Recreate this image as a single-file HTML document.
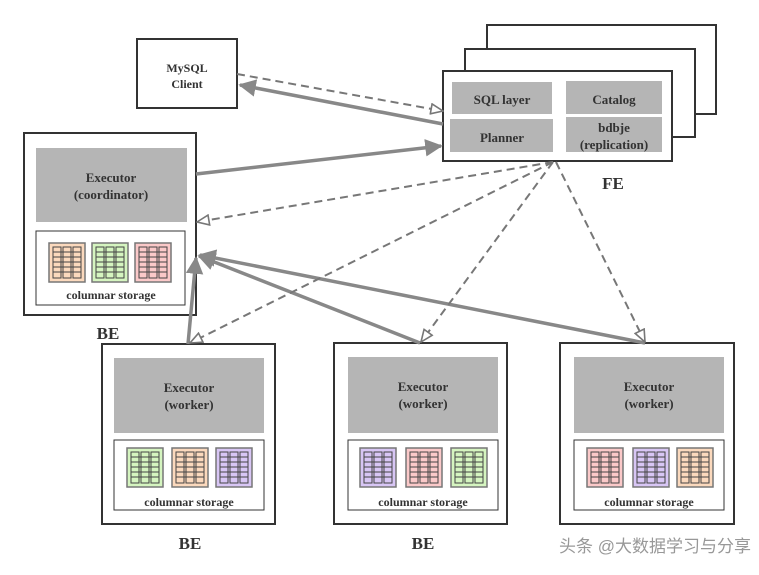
<!DOCTYPE html>
<html><head><meta charset="utf-8"><style>
html,body{margin:0;padding:0;background:#fff;width:759px;height:575px;overflow:hidden}
svg text{font-family:"Liberation Serif",serif;font-weight:bold;fill:#333}
</style></head><body>
<svg width="759" height="575" viewBox="0 0 759 575" xmlns="http://www.w3.org/2000/svg">
<defs>
<marker id="sa" viewBox="0 0 10 10" refX="9" refY="5" markerWidth="5" markerHeight="5" orient="auto" markerUnits="strokeWidth"><path d="M0,0 L10,5 L0,10 z" fill="#888"/></marker>
<marker id="oa" viewBox="0 0 14 12" refX="13" refY="6" markerWidth="14" markerHeight="12" orient="auto" markerUnits="userSpaceOnUse"><path d="M1,1 L13,6 L1,11 z" fill="#fff" stroke="#777" stroke-width="1.6"/></marker>
<g id="tbl">
<rect x="0" y="0" width="36" height="39" stroke="#777" stroke-width="1.5"/>
<g fill="none" stroke="#444" stroke-width="1">
<rect x="4" y="4" width="8" height="31"/><rect x="14" y="4" width="8" height="31"/><rect x="24" y="4" width="8" height="31"/>
<path d="M4,9h28M4,14h28M4,19h28M4,24h28M4,29h28"/>
</g>
</g>
</defs>

<rect x="137" y="39" width="100" height="69" fill="#fff" stroke="#333" stroke-width="2"/>
<text x="187" y="72" font-size="12" text-anchor="middle">MySQL</text>
<text x="187" y="88" font-size="12" text-anchor="middle">Client</text>

<rect x="487" y="25" width="229" height="89" fill="#fff" stroke="#333" stroke-width="2"/>
<rect x="465" y="49" width="230" height="88" fill="#fff" stroke="#333" stroke-width="2"/>
<rect x="443" y="71" width="229" height="90" fill="#fff" stroke="#333" stroke-width="2"/>
<rect x="452" y="82" width="100" height="32" fill="#b5b5b5"/>
<rect x="566" y="81" width="96" height="33" fill="#b5b5b5"/>
<rect x="450" y="119" width="103" height="33" fill="#b5b5b5"/>
<rect x="566" y="117" width="96" height="35" fill="#b5b5b5"/>
<text x="502" y="104" font-size="13" text-anchor="middle">SQL layer</text>
<text x="614" y="104" font-size="13" text-anchor="middle">Catalog</text>
<text x="502" y="142" font-size="13" text-anchor="middle">Planner</text>
<text x="614" y="132" font-size="13" text-anchor="middle">bdbje</text>
<text x="614" y="149" font-size="13" text-anchor="middle">(replication)</text>
<text x="613" y="189" font-size="17" text-anchor="middle">FE</text>

<rect x="24" y="133" width="172" height="182" fill="#fff" stroke="#333" stroke-width="2"/>
<rect x="36" y="148" width="151" height="74" fill="#b5b5b5"/>
<text x="111" y="182" font-size="13" text-anchor="middle">Executor</text>
<text x="111" y="199" font-size="13" text-anchor="middle">(coordinator)</text>
<rect x="36" y="231" width="149" height="74" fill="#fff" stroke="#333" stroke-width="1"/>
<use href="#tbl" x="49" y="243" fill="#fbd9bd"/>
<use href="#tbl" x="92" y="243" fill="#d5f5c0"/>
<use href="#tbl" x="135" y="243" fill="#fbc9c9"/>
<text x="111" y="299" font-size="12" text-anchor="middle">columnar storage</text>
<text x="108" y="339" font-size="17" text-anchor="middle">BE</text>

<g>
<rect x="102" y="344" width="173" height="180" fill="#fff" stroke="#333" stroke-width="2"/>
<rect x="114" y="358" width="150" height="75" fill="#b5b5b5"/>
<text x="189" y="392" font-size="13" text-anchor="middle">Executor</text>
<text x="189" y="409" font-size="13" text-anchor="middle">(worker)</text>
<rect x="114" y="440" width="150" height="70" fill="#fff" stroke="#333" stroke-width="1"/>
<use href="#tbl" x="127" y="448" fill="#d5f5c0"/>
<use href="#tbl" x="172" y="448" fill="#fbd9bd"/>
<use href="#tbl" x="216" y="448" fill="#d8c6f5"/>
<text x="189" y="506" font-size="12" text-anchor="middle">columnar storage</text>
<text x="190" y="549" font-size="17" text-anchor="middle">BE</text>
</g>
<g>
<rect x="334" y="343" width="173" height="181" fill="#fff" stroke="#333" stroke-width="2"/>
<rect x="348" y="357" width="150" height="76" fill="#b5b5b5"/>
<text x="423" y="391" font-size="13" text-anchor="middle">Executor</text>
<text x="423" y="408" font-size="13" text-anchor="middle">(worker)</text>
<rect x="348" y="440" width="150" height="70" fill="#fff" stroke="#333" stroke-width="1"/>
<use href="#tbl" x="360" y="448" fill="#d8c6f5"/>
<use href="#tbl" x="406" y="448" fill="#fbc9c9"/>
<use href="#tbl" x="451" y="448" fill="#d5f5c0"/>
<text x="423" y="506" font-size="12" text-anchor="middle">columnar storage</text>
<text x="423" y="549" font-size="17" text-anchor="middle">BE</text>
</g>
<g>
<rect x="560" y="343" width="174" height="181" fill="#fff" stroke="#333" stroke-width="2"/>
<rect x="574" y="357" width="150" height="76" fill="#b5b5b5"/>
<text x="649" y="391" font-size="13" text-anchor="middle">Executor</text>
<text x="649" y="408" font-size="13" text-anchor="middle">(worker)</text>
<rect x="574" y="440" width="150" height="70" fill="#fff" stroke="#333" stroke-width="1"/>
<use href="#tbl" x="587" y="448" fill="#fbc9c9"/>
<use href="#tbl" x="633" y="448" fill="#d8c6f5"/>
<use href="#tbl" x="677" y="448" fill="#fbd9bd"/>
<text x="649" y="506" font-size="12" text-anchor="middle">columnar storage</text>
</g>

<g stroke="#888" stroke-width="3.5" fill="none">
<line x1="443" y1="124" x2="240" y2="85" marker-end="url(#sa)"/>
<line x1="196" y1="174" x2="441" y2="146" marker-end="url(#sa)"/>
<line x1="188" y1="344" x2="196" y2="258" marker-end="url(#sa)"/>
<line x1="420" y1="343" x2="199" y2="256" marker-end="url(#sa)"/>
<line x1="645" y1="343" x2="200" y2="255" marker-end="url(#sa)"/>
</g>
<g stroke="#777" stroke-width="2" fill="none" stroke-dasharray="8,5">
<line x1="237" y1="74" x2="443" y2="111" marker-end="url(#oa)"/>
<line x1="553" y1="162" x2="197" y2="222" marker-end="url(#oa)"/>
<line x1="553" y1="162" x2="190" y2="343" marker-end="url(#oa)"/>
<line x1="553" y1="162" x2="421" y2="342" marker-end="url(#oa)"/>
<line x1="556" y1="162" x2="645" y2="342" marker-end="url(#oa)"/>
</g>

<text x="655" y="552" font-size="17" text-anchor="middle" style="font-family:'Liberation Sans','Noto Sans CJK SC',sans-serif;font-weight:normal;fill:#555;opacity:0.6">头条 @大数据学习与分享</text>
</svg>
</body></html>
